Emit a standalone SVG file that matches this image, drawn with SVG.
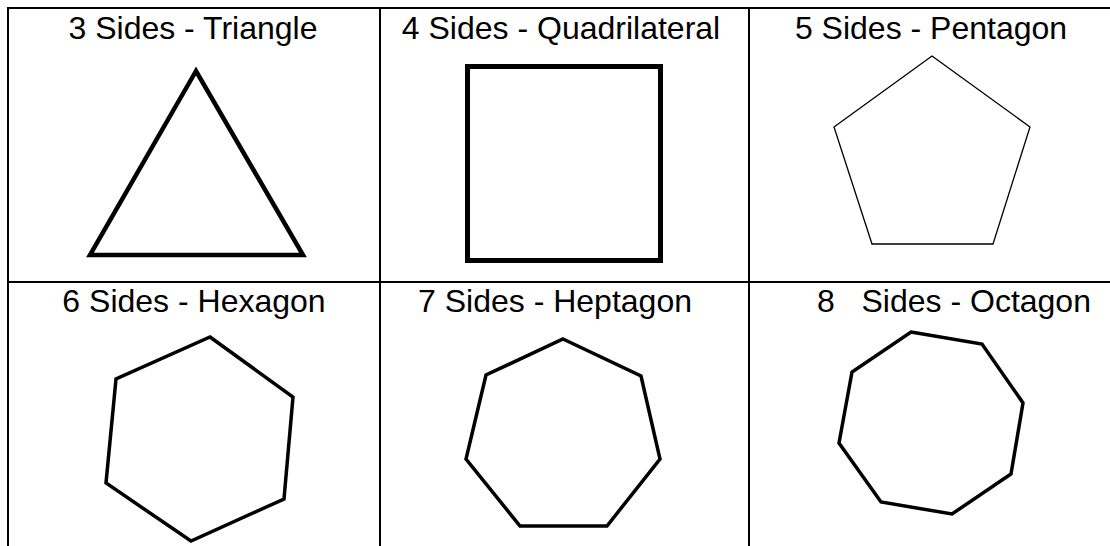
<svg xmlns="http://www.w3.org/2000/svg" width="1110" height="546" viewBox="0 0 1110 546">
<style>
.lbl{font-family:"Liberation Sans",Arial,sans-serif;font-size:32px;fill:#000;text-anchor:middle}
.grid{stroke:#000;stroke-width:2;fill:none}
.shape{fill:#fff;stroke:#000;stroke-linejoin:miter}
</style>
<rect width="1110" height="546" fill="#fff"/>
<g id="table" class="grid">
<line x1="7" y1="8" x2="1110" y2="8"/>
<line x1="7" y1="282" x2="1110" y2="282"/>
<line x1="8" y1="7" x2="8" y2="546"/>
<line x1="380" y1="8" x2="380" y2="546"/>
<line x1="749" y1="8" x2="749" y2="546"/>
</g>
<g id="triangle">
<text class="lbl" x="193" y="39">3 Sides - Triangle</text>
<polygon class="shape" stroke-width="4.5" points="196,71 90,255 303,255"/>
</g>
<g id="quadrilateral">
<text class="lbl" x="561" y="39">4 Sides - Quadrilateral</text>
<rect class="shape" stroke-width="5" x="467.5" y="66.5" width="193" height="194"/>
</g>
<g id="pentagon">
<text class="lbl" x="931" y="39">5 Sides - Pentagon</text>
<polygon class="shape" stroke-width="1.3" points="932,56 1030,127 993,244 872,244 834,127"/>
</g>
<g id="hexagon">
<text class="lbl" x="194" y="312">6 Sides - Hexagon</text>
<polygon class="shape" stroke-width="3.5" points="210,337 293,397 284,499 191,541 106,483 116,379"/>
</g>
<g id="heptagon">
<text class="lbl" x="555" y="312">7 Sides - Heptagon</text>
<polygon class="shape" stroke-width="3.5" points="563,339 641,376 660,459 607,526 520,526 466,459 486,375"/>
</g>
<g id="octagon">
<text class="lbl" x="954" y="312" xml:space="preserve">8   Sides - Octagon</text>
<polygon class="shape" stroke-width="3.5" points="911,332 982,344 1023,403 1011,474 952,514 881,502 839,443 852,372"/>
</g>
<g id="connectors"></g>
</svg>
